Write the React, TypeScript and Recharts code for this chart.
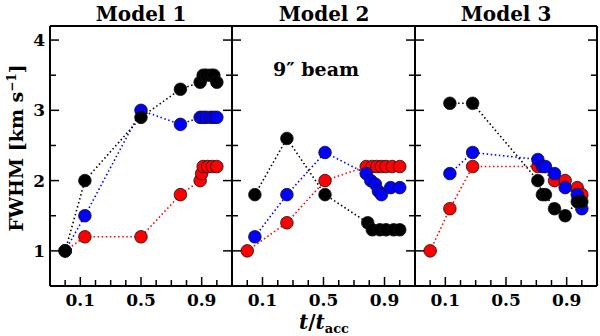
import { Scatter, ScatterChart, XAxis, YAxis } from "recharts";

// tick positions / labels
const X_TICKS = [0, 0.1, 0.2, 0.3, 0.4, 0.5, 0.6, 0.7, 0.8, 0.9, 1.0];
const X_LABELS = ["0.1", "0.5", "0.9"];
const Y_TICKS = [1, 1.5, 2, 2.5, 3, 3.5, 4];
const Y_LABELS = ["1", "2", "3", "4"];

// Model 1
const m1BlackT = [0, 0.13, 0.5, 0.76, 0.89, 0.91, 0.93, 0.96, 0.98, 1.0];
const m1BlackV = [1.0, 2.0, 2.9, 3.3, 3.4, 3.5, 3.5, 3.5, 3.5, 3.4];
const m1BlueT = [0, 0.13, 0.5, 0.76, 0.89, 0.91, 0.93, 0.96, 0.98, 1.0];
const m1BlueV = [1.0, 1.5, 3.0, 2.8, 2.9, 2.9, 2.9, 2.9, 2.9, 2.9];
const m1RedT = [0, 0.13, 0.5, 0.76, 0.89, 0.9, 0.91, 0.94, 0.97, 1.0];
const m1RedV = [1.0, 1.2, 1.2, 1.8, 2.0, 2.1, 2.2, 2.2, 2.2, 2.2];

// Model 2
const m2BlackT = [0.05, 0.26, 0.51, 0.79, 0.82, 0.87, 0.91, 0.96, 1.0];
const m2BlackV = [1.8, 2.6, 1.8, 1.4, 1.3, 1.3, 1.3, 1.3, 1.3];
const m2BlueT = [0.05, 0.26, 0.51, 0.78, 0.81, 0.84, 0.86, 0.88, 0.94, 1.0];
const m2BlueV = [1.2, 1.8, 2.4, 2.1, 2.0, 1.95, 1.85, 1.8, 1.9, 1.9];
const m2RedT = [0, 0.26, 0.51, 0.78, 0.82, 0.85, 0.88, 0.91, 0.95, 1.0];
const m2RedV = [1.0, 1.4, 2.0, 2.2, 2.2, 2.2, 2.2, 2.2, 2.2, 2.2];

// Model 3
const m3BlackT = [0.13, 0.28, 0.71, 0.74, 0.76, 0.82, 0.89, 0.97, 1.0];
const m3BlackV = [3.1, 3.1, 2.0, 1.8, 1.8, 1.6, 1.5, 1.7, 1.7];
const m3BlueT = [0.13, 0.28, 0.71, 0.74, 0.76, 0.82, 0.89, 0.97, 1.0];
const m3BlueV = [2.1, 2.4, 2.3, 2.2, 2.2, 2.1, 1.9, 1.8, 1.6];
const m3RedT = [0, 0.13, 0.28, 0.71, 0.82, 0.89, 0.97, 1.0];
const m3RedV = [1.0, 1.6, 2.2, 2.2, 2.0, 2.0, 1.9, 1.8];

const zip = (t: number[], v: number[]) => t.map((x, i) => ({ t: x, v: v[i] }));

const FONT = "'DejaVu Serif', serif";
const labelStyle = { fontFamily: FONT, fontWeight: "bold", fontSize: 17, fill: "#000" } as const;

const dot = (fill: string) => (p: any) =>
  <circle cx={p.cx} cy={p.cy} r={6.3} fill={fill} stroke="#111" strokeWidth={0.8} />;

const xMajor = (v: number) => X_LABELS.includes(v.toFixed(1));
const yMajor = (v: number) => Y_LABELS.includes(String(v));

// inward ticks, drawn from the axis' own tick coordinates
const bottomTick = (p: any) => {
  const v = p.payload.value;
  const len = xMajor(v) ? 9 : 6;
  return (
    <g>
      <line x1={p.x} y1={p.y} x2={p.x} y2={p.y - len} stroke="#000" strokeWidth={1.5} />
      {xMajor(v) && (
        <text x={p.x} y={p.y + 20} textAnchor="middle" style={labelStyle}>
          {v.toFixed(1)}
        </text>
      )}
    </g>
  );
};
const topTick = (p: any) => {
  const len = xMajor(p.payload.value) ? 9 : 6;
  return <line x1={p.x} y1={p.y} x2={p.x} y2={p.y + len} stroke="#000" strokeWidth={1.5} />;
};
const leftTick = (withLabel: boolean) => (p: any) => {
  const v = p.payload.value;
  const len = yMajor(v) ? 9 : 6;
  return (
    <g>
      <line x1={p.x} y1={p.y} x2={p.x + len} y2={p.y} stroke="#000" strokeWidth={1.5} />
      {withLabel && yMajor(v) && (
        <text x={p.x - 5} y={p.y + 6} textAnchor="end" style={labelStyle}>
          {String(v)}
        </text>
      )}
    </g>
  );
};
const rightTick = (p: any) => {
  const len = yMajor(p.payload.value) ? 9 : 6;
  return <line x1={p.x} y1={p.y} x2={p.x - len} y2={p.y} stroke="#000" strokeWidth={1.5} />;
};

type Series = { t: number[]; v: number[]; color: string };

function Panel({ left, right, series, yLabels }: { left: number; right: number; series: Series[]; yLabels: boolean }) {
  const axisLine = { stroke: "#000", strokeWidth: 2 };
  const common = { tickSize: 0, tickMargin: 0, tickLine: false, axisLine, interval: 0 as const, allowDataOverflow: true };
  return (
    <div style={{ position: "absolute", left: 0, top: 0 }}>
      <ScatterChart width={600} height={336} margin={{ top: 25, bottom: 49, left: left - 1, right: right - 1 }}>
        <XAxis xAxisId="b" type="number" dataKey="t" domain={[-0.1, 1.1]} ticks={X_TICKS} height={1} tick={bottomTick} {...common} />
        <XAxis xAxisId="t" orientation="top" type="number" domain={[-0.1, 1.1]} ticks={X_TICKS} height={1} tick={topTick} {...common} />
        <YAxis yAxisId="l" type="number" dataKey="v" domain={[0.5, 4.2]} ticks={Y_TICKS} width={1} tick={leftTick(yLabels)} {...common} />
        <YAxis yAxisId="r" orientation="right" type="number" domain={[0.5, 4.2]} ticks={Y_TICKS} width={1} tick={rightTick} {...common} />
        {series.map((s, i) => (
          <Scatter
            key={i}
            xAxisId="b"
            yAxisId="l"
            data={zip(s.t, s.v)}
            fill={s.color}
            shape={dot(s.color)}
            line={{ stroke: s.color, strokeWidth: 1.6, strokeDasharray: "1.5 2.6" }}
            lineType="joint"
            isAnimationActive={false}
          />
        ))}
      </ScatterChart>
    </div>
  );
}

const RED = "#ff0000";
const BLUE = "#0000ff";
const BLACK = "#000000";

const textBase: React.CSSProperties = {
  position: "absolute",
  fontFamily: FONT,
  fontWeight: "bold",
  color: "#000",
  whiteSpace: "nowrap",
  lineHeight: 1,
};

export default function App() {
  return (
    <div style={{ position: "absolute", left: 0, top: 0, width: 600, height: 336, background: "#fff", overflow: "hidden" }}>
      <Panel
        left={50}
        right={368}
        yLabels
        series={[
          { t: m1RedT, v: m1RedV, color: RED },
          { t: m1BlueT, v: m1BlueV, color: BLUE },
          { t: m1BlackT, v: m1BlackV, color: BLACK },
        ]}
      />
      <Panel
        left={232}
        right={185}
        yLabels={false}
        series={[
          { t: m2RedT, v: m2RedV, color: RED },
          { t: m2BlueT, v: m2BlueV, color: BLUE },
          { t: m2BlackT, v: m2BlackV, color: BLACK },
        ]}
      />
      <Panel
        left={415}
        right={3}
        yLabels={false}
        series={[
          { t: m3RedT, v: m3RedV, color: RED },
          { t: m3BlueT, v: m3BlueV, color: BLUE },
          { t: m3BlackT, v: m3BlackV, color: BLACK },
        ]}
      />
      <div style={{ ...textBase, fontSize: 20, left: 141, top: 4, transform: "translateX(-50%)" }}>Model 1</div>
      <div style={{ ...textBase, fontSize: 20, left: 324, top: 4, transform: "translateX(-50%)" }}>Model 2</div>
      <div style={{ ...textBase, fontSize: 20, left: 506, top: 4, transform: "translateX(-50%)" }}>Model 3</div>
      <div style={{ ...textBase, fontSize: 19, left: 316, top: 60, transform: "translateX(-50%)" }}>9″ beam</div>
      <div style={{ ...textBase, fontSize: 20, left: 324, top: 312, transform: "translateX(-50%)" }}>
        <i>t</i>/<i>t</i>
        <span style={{ fontSize: 13, fontStyle: "normal", position: "relative", top: 4 }}>acc</span>
      </div>
      <div
        style={{
          ...textBase,
          fontSize: 19,
          left: 16,
          top: 148,
          transform: "translate(-50%, -50%) rotate(-90deg)",
        }}
      >
        FWHM [km s<sup style={{ fontSize: 12 }}>−1</sup>]
      </div>
    </div>
  );
}
